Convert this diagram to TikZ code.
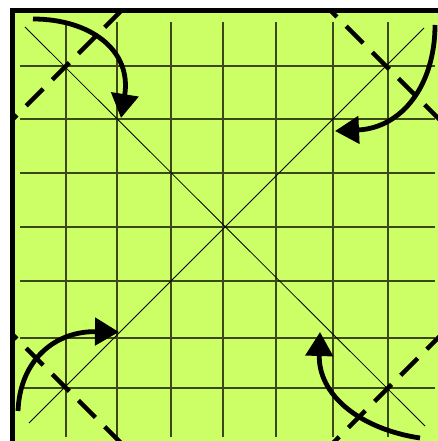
\documentclass[tikz,border=0pt]{standalone}
\usetikzlibrary{arrows.meta}
\definecolor{paper}{RGB}{204,255,102}
\definecolor{gridcol}{RGB}{60,72,25}
\tikzset{
  gridline/.style={draw=gridcol,line width=1.3pt},
  diagline/.style={draw=black,line width=0.8pt},
  foldline/.style={draw=black,line width=4.5pt,dash pattern=on 24pt off 13pt},
  turnarrow/.style={draw=black,line width=4.8pt,-{Triangle[length=24pt,width=27pt]}},
  border/.style={draw=black,line width=5pt}
}
\begin{document}
\begin{tikzpicture}[x=1pt,y=-1pt]
\useasboundingbox (0,0) rectangle (438,441);
\clip (0,0) rectangle (438,441);
% paper
\fill[paper] (12,11) rectangle (470,470);
% grid
\foreach \x in {66,117,171,223,276,333,388} {\draw[gridline] (\x,22) -- (\x,437);}
\foreach \y in {66,119,173,227,281,338,388} {\draw[gridline] (20,\y) -- (435,\y);}
% diagonals
\coordinate (d1a) at (25,27); \coordinate (d1b) at (425,426);
\coordinate (d2a) at (424,28); \coordinate (d2b) at (29,423);
\draw[diagline] (d1a) -- (d1b);
\draw[diagline] (d2a) -- (d2b);
% dashed fold lines
\begin{scope}
\clip (12,11) rectangle (470,470);
\coordinate (f1a) at (0,132); \coordinate (f1b) at (132,0);
\coordinate (f2a) at (320,0); \coordinate (f2b) at (470,150);
\coordinate (f3a) at (0,322); \coordinate (f3b) at (150,472);
\coordinate (f4a) at (470,306); \coordinate (f4b) at (306,470);
\draw[foldline] (f1a) -- (f1b);
\draw[foldline] (f2a) -- (f2b);
\draw[foldline] (f3a) -- (f3b);
\draw[foldline] (f4a) -- (f4b);
\end{scope}
% arrows
\coordinate (tlS) at (33,19); \coordinate (tlE) at (121,118);
\coordinate (trS) at (435,25); \coordinate (trE) at (335,131);
\coordinate (brS) at (420,438); \coordinate (brE) at (320,332);
\coordinate (blS) at (18,411); \coordinate (blE) at (119,332);
\draw[turnarrow] (tlS) .. controls (90,19) and (132,50) .. (tlE);
\draw[turnarrow] (trS) .. controls (435,85) and (402,128) .. (trE);
\draw[turnarrow] (brS) .. controls (360,429) and (318,395) .. (brE);
\draw[turnarrow] (blS) .. controls (20,360) and (55,331) .. (blE);
% border
\draw[border] (12,480) -- (12,11) -- (480,11);
\end{tikzpicture}
\end{document}
